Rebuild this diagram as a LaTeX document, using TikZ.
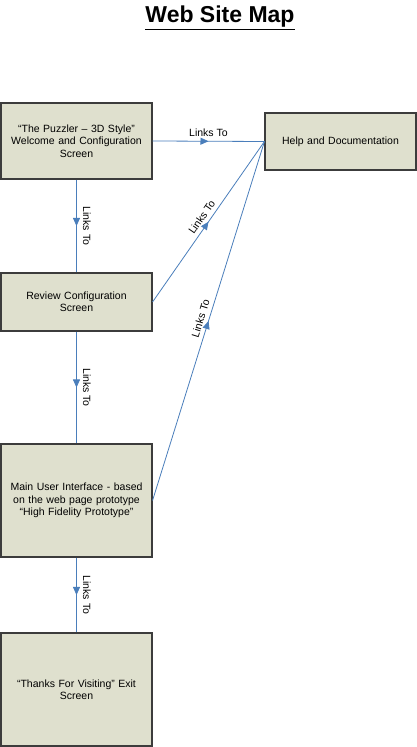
\documentclass[tikz,border=0pt]{standalone}
\usepackage{fontspec}
\setmainfont{Liberation Sans}
\usetikzlibrary{arrows.meta,positioning,calc,decorations.markings}

\definecolor{pagefill}{RGB}{223,224,206}
\definecolor{linkblue}{RGB}{74,126,187}
\definecolor{boxline}{RGB}{60,60,60}

\begin{document}
\begin{tikzpicture}[
				x=1pt,y=1pt,
				>=Latex,
				page/.style={
					rectangle,
					draw=boxline,
					line width=1.1pt,
					fill=pagefill,
					align=center,
					minimum width=151pt,
					text width=144pt,
					font=\fontsize{10.5}{12.5}\selectfont
				},
				link/.style={
					draw=linkblue,
					line width=0.8pt,
					postaction={decorate},
					decoration={markings,
						mark=at position 0.5 with {\arrow[linkblue]{Triangle[length=8pt,width=7pt]}}}
				},
				linklabel/.style={
					font=\fontsize{10.5}{12}\selectfont,
					inner sep=4pt
				},
				downlabel/.style={
					linklabel,
					inner sep=0pt,
					outer sep=6.5pt,
					anchor=south,
					rotate=-90
				}
				]
				
				\useasboundingbox (0,0) rectangle (417,747);
				
				% -------------------------------------------------------------------------
				% Title
				% -------------------------------------------------------------------------
				
				\node[font=\fontsize{23}{26}\selectfont\bfseries] (title) at (220,729)
				{\underline{Web Site Map}};
				
				% -------------------------------------------------------------------------
				% Site pages
				% -------------------------------------------------------------------------
				
				\node[page,minimum height=76pt] (welcome) at (76.5,606)
				{``The Puzzler -- 3D Style''\\Welcome and Configuration\\Screen};
				
				\node[page,minimum height=58pt] (review) at (76.5,445)
				{Review Configuration\\Screen};
				
				\node[page,minimum height=113pt] (mainui) at (76.5,246.5)
				{Main User Interface - based\\on the web page prototype\\``High Fidelity Prototype''};
				
				\node[page,minimum height=113pt] (thanks) at (76.5,57.5)
				{``Thanks For Visiting'' Exit\\Screen};
				
				\node[page,minimum height=57pt] (help) at (340.5,605.5)
				{Help and Documentation};
				
				% -------------------------------------------------------------------------
				% Page flow: straight down
				% -------------------------------------------------------------------------
				
				\draw[link] (welcome) -- node[downlabel] {Links To} (review);
				\draw[link] (review) -- node[downlabel] {Links To} (mainui);
				\draw[link] (mainui) -- node[downlabel] {Links To} (thanks);
				
				% -------------------------------------------------------------------------
				% Links to help
				% -------------------------------------------------------------------------
				
				\draw[link] (welcome.east) -- node[linklabel,above] {Links To} (help.west);
				\draw[link] (review.east) -- node[linklabel,sloped,above] {Links To} (help.west);
				\draw[link] (mainui.east) -- node[linklabel,sloped,above] {Links To} (help.west);
				
\end{tikzpicture}
\end{document}
